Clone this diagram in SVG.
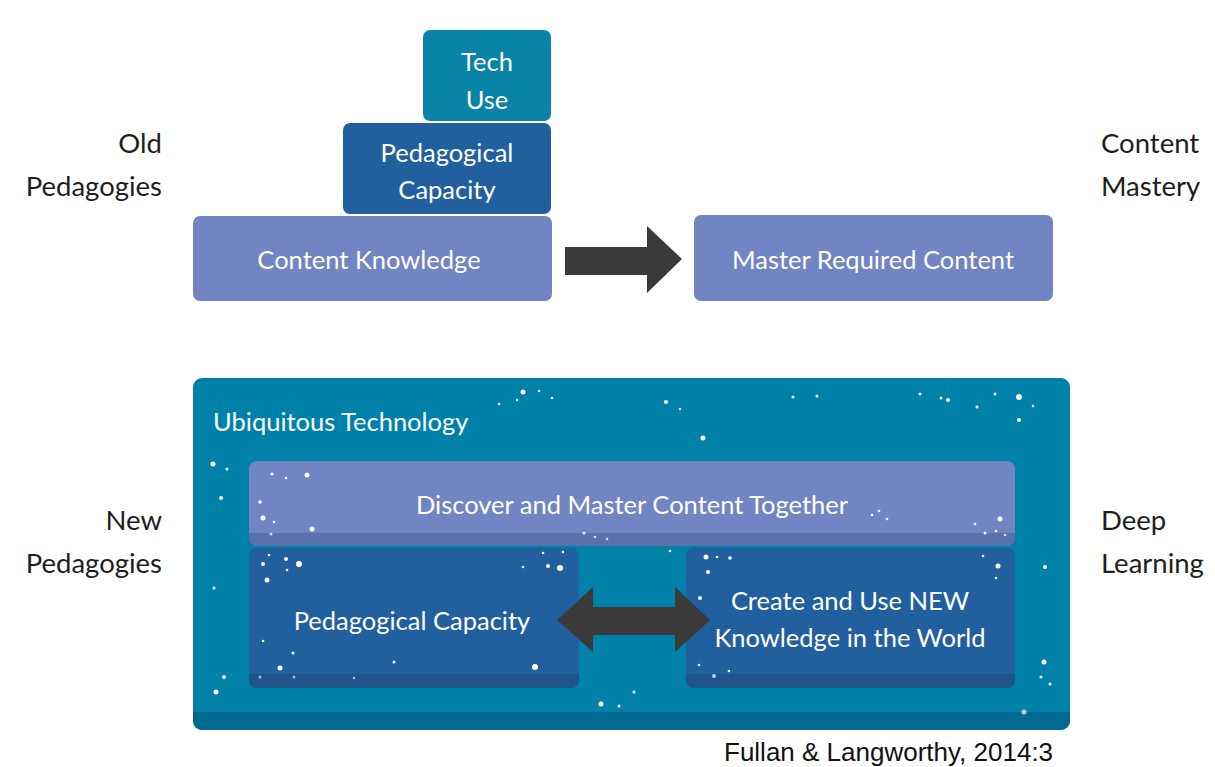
<svg xmlns="http://www.w3.org/2000/svg" width="1215" height="767" viewBox="0 0 1215 767">
  <defs>
    <style>
      .lbl { font-family: Lato, "Open Sans", "Liberation Sans", sans-serif; font-size: 27.5px; fill: #1e1e1e; }
      .in { font-family: Lato, "Open Sans", "Liberation Sans", sans-serif; font-size: 25.5px; fill: #ffffff; text-anchor: middle; }
      .in-left { font-family: Lato, "Open Sans", "Liberation Sans", sans-serif; font-size: 25.5px; fill: #ffffff; text-anchor: start; }
      .teal { fill: #0a83a9; }
      .navy { fill: #215f9e; }
      .lav { fill: #7085c1; }
      .arrow { fill: #3a3a3a; }
      .star { fill: #ffffff; }
      .cite { font-family: "Liberation Sans", Arial, sans-serif; font-size: 26px; fill: #111111; }
    </style>
    <clipPath id="clipDisc"><rect x="249" y="461" width="766" height="85" rx="8"/></clipPath>
    <clipPath id="clipPed"><rect x="249" y="548" width="330" height="140" rx="8"/></clipPath>
    <clipPath id="clipCre"><rect x="686" y="548" width="329" height="140" rx="8"/></clipPath>
    <clipPath id="clipBig"><rect x="193" y="378" width="877" height="352" rx="9"/></clipPath>
  </defs>

  <rect x="0" y="0" width="1215" height="767" fill="#ffffff"/>

  <!-- side labels -->
  <g id="label-old">
    <text class="lbl" x="162" y="153" text-anchor="end">Old</text>
    <text class="lbl" x="162" y="196" text-anchor="end">Pedagogies</text>
  </g>
  <g id="label-mastery">
    <text class="lbl" x="1101" y="153">Content</text>
    <text class="lbl" x="1101" y="196">Mastery</text>
  </g>
  <g id="label-new">
    <text class="lbl" x="162" y="530" text-anchor="end">New</text>
    <text class="lbl" x="162" y="573" text-anchor="end">Pedagogies</text>
  </g>
  <g id="label-deep">
    <text class="lbl" x="1101" y="530">Deep</text>
    <text class="lbl" x="1101" y="573">Learning</text>
  </g>

  <!-- old pedagogies stack -->
  <g id="tech-use">
    <rect class="teal" x="423" y="30" width="128" height="91" rx="7"/>
    <text class="in" x="487" y="71">Tech</text>
    <text class="in" x="487" y="109">Use</text>
  </g>
  <g id="ped-capacity-top">
    <rect class="navy" x="343" y="123" width="208" height="91" rx="7"/>
    <text class="in" x="447" y="162">Pedagogical</text>
    <text class="in" x="447" y="199">Capacity</text>
  </g>
  <g id="content-knowledge">
    <rect class="lav" x="193" y="216" width="359" height="85" rx="7"/>
    <text class="in" x="369" y="269">Content Knowledge</text>
  </g>
  <g id="master-content">
    <rect class="lav" x="694" y="215" width="359" height="86" rx="7"/>
    <text class="in" x="873" y="269">Master Required Content</text>
  </g>

  <!-- ubiquitous technology container -->
  <g id="ubiquitous">
    <rect fill="#0081aa" x="193" y="378" width="877" height="352" rx="9"/>
    <rect fill="#006991" x="193" y="712" width="877" height="18" clip-path="url(#clipBig)"/>
    <text class="in-left" x="213" y="431">Ubiquitous Technology</text>
    <g class="star">
      <circle cx="523" cy="392" r="2.5"/><circle cx="517" cy="400" r="1.3"/><circle cx="539" cy="391" r="1.3"/><circle cx="552" cy="398" r="1.3"/>
      <circle cx="499" cy="404" r="1.3"/><circle cx="666" cy="402" r="2"/><circle cx="680" cy="409" r="1.3"/>
      <circle cx="793" cy="397" r="1.5"/><circle cx="817" cy="396" r="1.5"/><circle cx="703" cy="438" r="2.5"/>
      <circle cx="920" cy="394" r="1.5"/><circle cx="941" cy="398" r="1.5"/><circle cx="948" cy="400" r="2"/>
      <circle cx="977" cy="407" r="1.5"/><circle cx="995" cy="394" r="1.5"/><circle cx="1019" cy="397" r="3"/>
      <circle cx="1033" cy="406" r="1.3"/><circle cx="1019" cy="420" r="2"/>
      <circle cx="213" cy="464" r="2.5"/><circle cx="227" cy="469" r="1.5"/><circle cx="221" cy="498" r="2"/>
      <circle cx="214" cy="588" r="1.5"/><circle cx="224" cy="677" r="2"/><circle cx="216" cy="692" r="2.5"/>
      <circle cx="601" cy="704" r="2.5"/><circle cx="619" cy="706" r="1.5"/><circle cx="1045" cy="567" r="2"/>
      <circle cx="1044" cy="662" r="2.5"/><circle cx="1041" cy="677" r="1.5"/><circle cx="1050" cy="684" r="1.5"/>
      <circle cx="1024" cy="712" r="2.5" opacity="0.7"/><circle cx="634" cy="692" r="1.5"/><circle cx="670" cy="551" r="1.3"/>
    </g>
  </g>

  <g id="discover">
    <rect class="lav" x="249" y="461" width="766" height="85" rx="8"/>
    <rect fill="#5a72ac" x="249" y="533" width="766" height="13" clip-path="url(#clipDisc)"/>
    <text class="in" x="632" y="514">Discover and Master Content Together</text>
    <g class="star">
      <circle cx="272" cy="474" r="1.5"/><circle cx="286" cy="478" r="1.3"/><circle cx="307" cy="475" r="2.5"/>
      <circle cx="260" cy="502" r="1.8"/><circle cx="263" cy="518" r="2.5"/><circle cx="274" cy="522" r="1.3"/>
      <circle cx="312" cy="529" r="2.5"/><circle cx="271" cy="534" r="1.5" opacity="0.7"/>
      <circle cx="584" cy="533" r="1.5" opacity="0.8"/><circle cx="595" cy="537" r="1.3" opacity="0.8"/><circle cx="607" cy="539" r="1.3" opacity="0.8"/>
      <circle cx="872" cy="515" r="1.3"/><circle cx="879" cy="511" r="1.3"/><circle cx="887" cy="519" r="1.3"/>
      <circle cx="975" cy="524" r="1.3"/><circle cx="1000" cy="519" r="2.5"/><circle cx="985" cy="533" r="1.5"/>
      <circle cx="996" cy="531" r="1.3"/><circle cx="1005" cy="535" r="1.3" opacity="0.8"/>
    </g>
  </g>

  <g id="ped-capacity-new">
    <rect class="navy" x="249" y="548" width="330" height="140" rx="8"/>
    <rect fill="#1f5489" x="249" y="674" width="330" height="14" clip-path="url(#clipPed)"/>
    <text class="in" x="412" y="630">Pedagogical Capacity</text>
    <g class="star">
      <circle cx="269" cy="555" r="1.3"/><circle cx="263" cy="564" r="2"/><circle cx="286" cy="559" r="2"/>
      <circle cx="299" cy="564" r="3"/><circle cx="287" cy="570" r="1.3"/><circle cx="267" cy="580" r="2.5"/>
      <circle cx="523" cy="567" r="1.3"/><circle cx="543" cy="553" r="1.3"/><circle cx="548" cy="566" r="2"/>
      <circle cx="560" cy="568" r="3"/><circle cx="563" cy="552" r="1.3"/>
      <circle cx="263" cy="641" r="1.3"/><circle cx="293" cy="653" r="1.5"/><circle cx="280" cy="668" r="2.5"/>
      <circle cx="394" cy="662" r="1.5"/><circle cx="535" cy="667" r="3"/>
      <circle cx="260" cy="677" r="1.5" opacity="0.6"/><circle cx="294" cy="677" r="1.5" opacity="0.6"/><circle cx="354" cy="678" r="1.3" opacity="0.6"/>
    </g>
  </g>

  <g id="create-new">
    <rect class="navy" x="686" y="548" width="329" height="140" rx="8"/>
    <rect fill="#1f5489" x="686" y="674" width="329" height="14" clip-path="url(#clipCre)"/>
    <text class="in" x="850" y="610">Create and Use NEW</text>
    <text class="in" x="850" y="647">Knowledge in the World</text>
    <g class="star">
      <circle cx="706" cy="557" r="2.5"/><circle cx="717" cy="557" r="1.3"/><circle cx="730" cy="558" r="1.8"/>
      <circle cx="708" cy="572" r="2"/><circle cx="700" cy="598" r="2"/>
      <circle cx="983" cy="556" r="1.3"/><circle cx="998" cy="566" r="2.5"/><circle cx="996" cy="578" r="1.3"/>
      <circle cx="699" cy="665" r="1.3"/><circle cx="714" cy="676" r="2" opacity="0.7"/><circle cx="729" cy="671" r="1.3"/>
    </g>
  </g>

  <!-- connectors -->
  <g id="connectors">
    <polygon class="arrow" points="565,247 647,247 647,226 682,259 647,293 647,275 565,275"/>
    <polygon class="arrow" points="557,620 593,587 593,607 675,607 675,587 710,620 675,652 675,635 593,635 593,652"/>
  </g>

  <g id="citation">
    <text class="cite" x="724" y="761">Fullan &amp; Langworthy, 2014:3</text>
  </g>
</svg>
